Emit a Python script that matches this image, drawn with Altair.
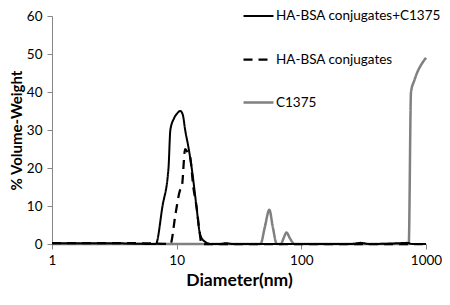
import altair as alt
import pandas as pd

series_names = ["HA-BSA conjugates+C1375", "HA-BSA conjugates", "C1375"]

solid_x = [1, 3, 6.8, 7.7, 8.6, 8.9, 9.5, 10.0, 10.7, 11.2, 11.7, 12.5, 13.2, 14.4, 15.3, 16.3, 18.9, 22, 25, 28, 40, 250, 300, 350, 600, 700, 780, 1000]
solid_y = [0.2, 0.2, 0, 10, 20, 30, 33, 34.2, 35, 34, 30, 25, 20, 10, 3, 1, 0, 0, 0.2, 0, 0, 0, 0.3, 0, 0.2, 0.3, 0, 0]

dash_x = [1, 5, 8.9, 9.8, 10.6, 11.0, 11.7, 12.3, 12.8, 13.6, 14.4, 15.3, 15.8, 20, 100, 1000]
dash_y = [0.2, 0.2, 0, 8, 14, 15, 25, 24, 23, 15, 10, 3, 0, 0, 0, 0]

gray_x = [1, 47, 51, 55.4, 59, 63.6, 68.7, 72, 76, 81, 88, 727, 758, 805, 1000]
gray_y = [0, 0, 4.5, 9, 4.5, 0, 0, 1.5, 3, 1.5, 0, 0, 40, 43, 49]

rows = []
for s, xs, ys in [(series_names[0], solid_x, solid_y), (series_names[1], dash_x, dash_y), (series_names[2], gray_x, gray_y)]:
    for i, (a, b) in enumerate(zip(xs, ys)):
        rows.append({"series": s, "d": a, "v": b, "o": i})
df = pd.DataFrame(rows)

x_enc = alt.X("d:Q", scale=alt.Scale(type="log", domain=[1, 1000], nice=False),
              axis=alt.Axis(values=[1, 10, 100, 1000], format="d", title="Diameter(nm)",
                            grid=False, domainColor="#868686", tickColor="#868686", tickSize=5,
                            labelFontSize=13.5, labelColor="black", labelFont="Lato", labelPadding=4,
                            labelFlush=False,
                            titleFont="Lato", titleFontSize=17.5, titleFontWeight="bold",
                            titleColor="black", titlePadding=5))
y_enc = alt.Y("v:Q", scale=alt.Scale(domain=[0, 60], nice=False),
              axis=alt.Axis(values=[0, 10, 20, 30, 40, 50, 60], title="% Volume-Weight",
                            grid=False, domainColor="#868686", tickColor="#868686", tickSize=5,
                            labelFontSize=13.5, labelColor="black", labelFont="Lato", labelPadding=5,
                            labelFlush=False,
                            titleFont="Lato", titleFontSize=15, titleFontWeight="bold",
                            titleColor="black", titlePadding=2))

color = alt.Color("series:N", scale=alt.Scale(domain=series_names, range=["black", "black", "#808080"]),
                  legend=alt.Legend(title=None, orient="none", legendX=190, legendY=-16,
                                    symbolType="stroke", symbolSize=900, rowPadding=20,
                                    labelFont="Lato", labelFontSize=13.5, labelColor="black",
                                    labelLimit=400, labelOffset=1, symbolStrokeWidth=2.5))
dash = alt.StrokeDash("series:N", scale=alt.Scale(domain=series_names, range=[[1, 0], [9, 6], [1, 0]]))
width_enc = alt.StrokeWidth("series:N", scale=alt.Scale(domain=series_names, range=[2, 2.5, 1.6]))

def layer(name):
    return alt.Chart(df).transform_filter(alt.datum.series == name).mark_line(
        interpolate="monotone").encode(x=x_enc, y=y_enc, color=color, strokeDash=dash,
                                       strokeWidth=width_enc, order="o:Q")

chart = alt.layer(layer(series_names[2]), layer(series_names[0]), layer(series_names[1])).properties(
    width=374, height=228,
    autosize=alt.AutoSizeParams(type="none"),
    padding={"left": 44, "top": 8, "right": 16, "bottom": 48},
).configure_view(stroke=None)

chart.save("out.html", embed_options={"renderer": "svg", "actions": False})
